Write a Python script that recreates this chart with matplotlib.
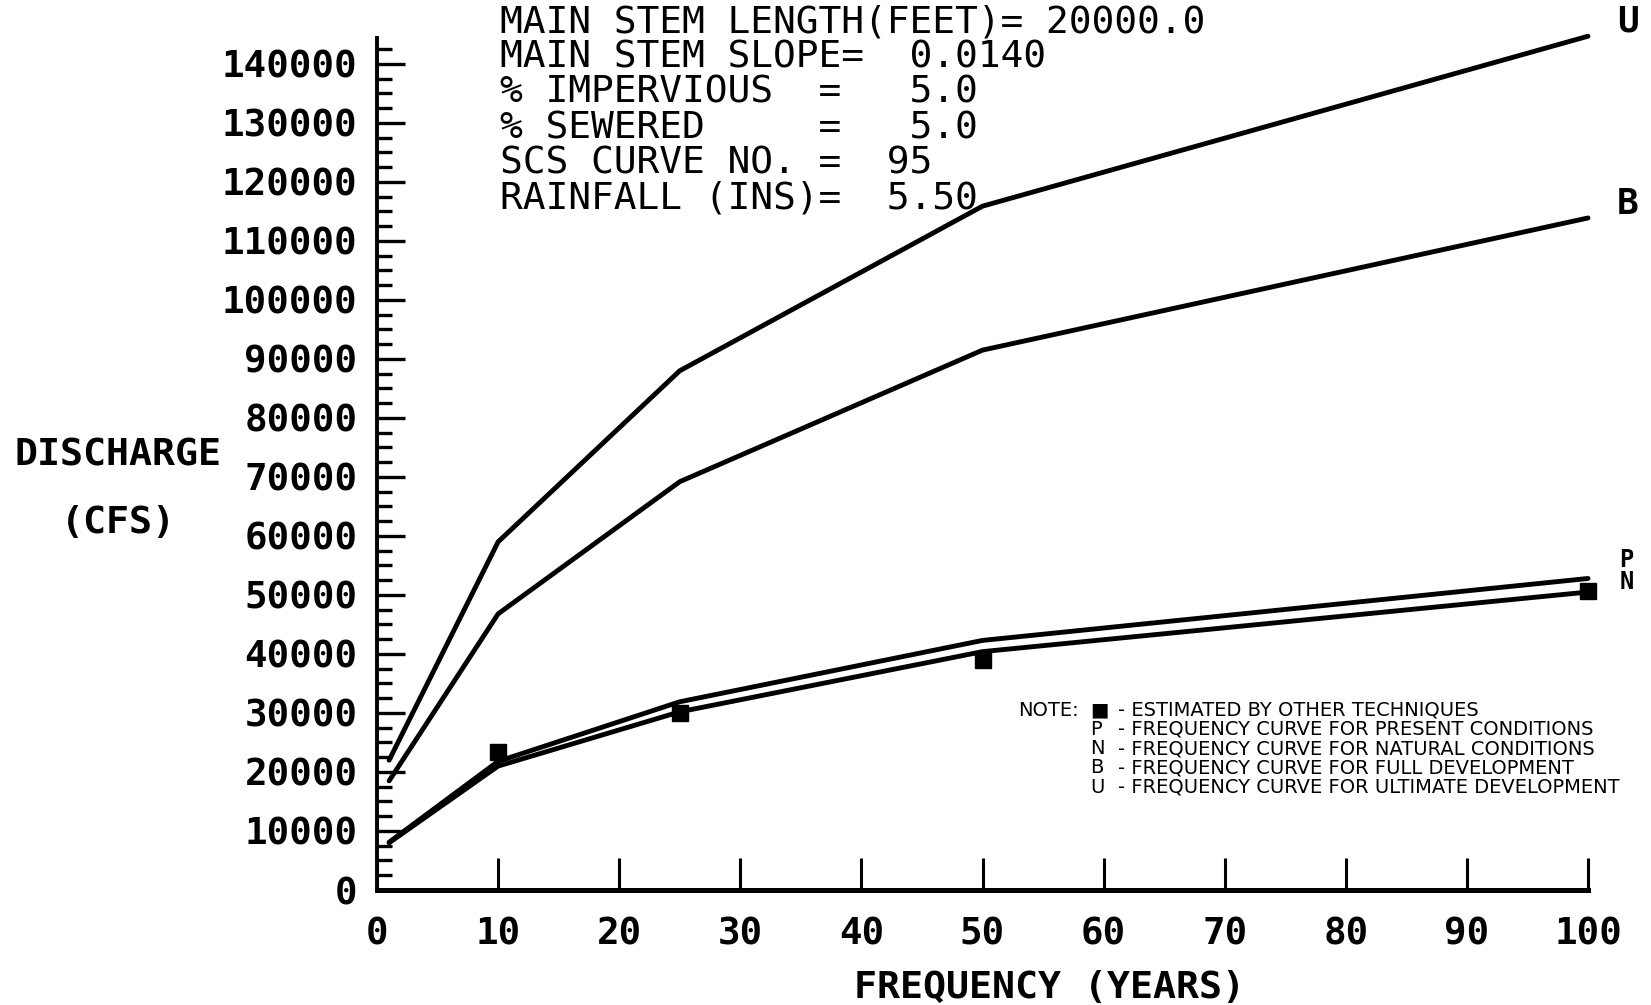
import matplotlib
matplotlib.use('Agg')
import matplotlib.pyplot as plt
from matplotlib.ticker import MultipleLocator

# Data
freq = [1, 10, 25, 50, 100]
curve_u = [22000, 59000, 88000, 115900, 144700]
curve_b = [18500, 46800, 69200, 91500, 113900]
curve_p = [8100, 21800, 31900, 42300, 52800]
curve_n = [8000, 21000, 30200, 40400, 50500]

est_freq = [10, 25, 50, 100]
est_q = [23400, 30000, 38900, 50700]

header = [
    "MAIN STEM LENGTH(FEET)= 20000.0",
    "MAIN STEM SLOPE=  0.0140",
    "% IMPERVIOUS  =   5.0",
    "% SEWERED     =   5.0",
    "SCS CURVE NO. =  95",
    "RAINFALL (INS)=  5.50",
]

note_keys = ["\u25a0", "P", "N", "B", "U"]
note_text = [
    "- ESTIMATED BY OTHER TECHNIQUES",
    "- FREQUENCY CURVE FOR PRESENT CONDITIONS",
    "- FREQUENCY CURVE FOR NATURAL CONDITIONS",
    "- FREQUENCY CURVE FOR FULL DEVELOPMENT",
    "- FREQUENCY CURVE FOR ULTIMATE DEVELOPMENT",
]

W, H = 1651, 1005
mono = 'DejaVu Sans Mono'
sans = 'DejaVu Sans'

fig = plt.figure(figsize=(W / 100, H / 100), dpi=100)
ax = fig.add_axes([377 / W, 1 - 890 / H, (1588 - 377) / W, (890 - 38) / H])

for q in [curve_u, curve_b, curve_p, curve_n]:
    ax.plot(freq, q, color='black', lw=3.5, solid_capstyle='round', clip_on=False)
ax.plot(est_freq, est_q, 's', color='black', ms=11, clip_on=False)

ax.set_xlim(0, 100)
ax.set_ylim(0, 144400)

# axes look like an old plotter output
for s in ['top', 'right']:
    ax.spines[s].set_visible(False)
ax.spines['left'].set_linewidth(2.8)
ax.spines['bottom'].set_linewidth(3.6)

ax.xaxis.set_major_locator(MultipleLocator(10))
ax.yaxis.set_major_locator(MultipleLocator(10000))
ax.yaxis.set_minor_locator(MultipleLocator(2500))
ax.tick_params(axis='x', direction='in', length=23, width=2.2, pad=19)
ax.tick_params(axis='y', which='major', direction='in', length=20, width=2.4, pad=14)
ax.tick_params(axis='y', which='minor', direction='in', length=11, width=2.4)
for lab in ax.get_xticklabels() + ax.get_yticklabels():
    lab.set_fontfamily(mono)
    lab.set_fontweight('bold')
    lab.set_fontsize(27)

# curve letters
ax.text(102.4, 147200, 'U', fontfamily=mono, fontweight='bold', fontsize=26, va='center', clip_on=False)
ax.text(102.4, 116300, 'B', fontfamily=mono, fontweight='bold', fontsize=26, va='center', clip_on=False)
ax.text(102.6, 56000, 'P', fontfamily=mono, fontweight='bold', fontsize=17, va='center', clip_on=False)
ax.text(102.6, 52200, 'N', fontfamily=mono, fontweight='bold', fontsize=17, va='center', clip_on=False)

# header block
for i, line in enumerate(header):
    fig.text(500 / W, 1 - (22 + 35.4 * i) / H, line, fontfamily=mono, fontsize=27.3, va='center')

# axis labels
fig.text(118 / W, 1 - 455 / H, 'DISCHARGE', fontfamily=mono, fontweight='bold', fontsize=27.5, ha='center', va='center')
fig.text(118 / W, 1 - 523 / H, '(CFS)', fontfamily=mono, fontweight='bold', fontsize=27.5, ha='center', va='center')
fig.text(1049 / W, 1 - 988 / H, 'FREQUENCY (YEARS)', fontfamily=mono, fontweight='bold', fontsize=27.5, ha='center', va='center')

# note block
fig.text(1018 / W, 1 - 710 / H, 'NOTE:', fontfamily=sans, fontsize=14, va='center')
for i in range(len(note_keys)):
    y = 1 - (710 + 19.3 * i) / H
    fig.text(1090 / W, y, note_keys[i], fontfamily=sans, fontsize=14, va='center')
    fig.text(1118 / W, y, note_text[i], fontfamily=sans, fontsize=14, va='center')

plt.savefig('out.png', dpi=100)
plt.close('all')
